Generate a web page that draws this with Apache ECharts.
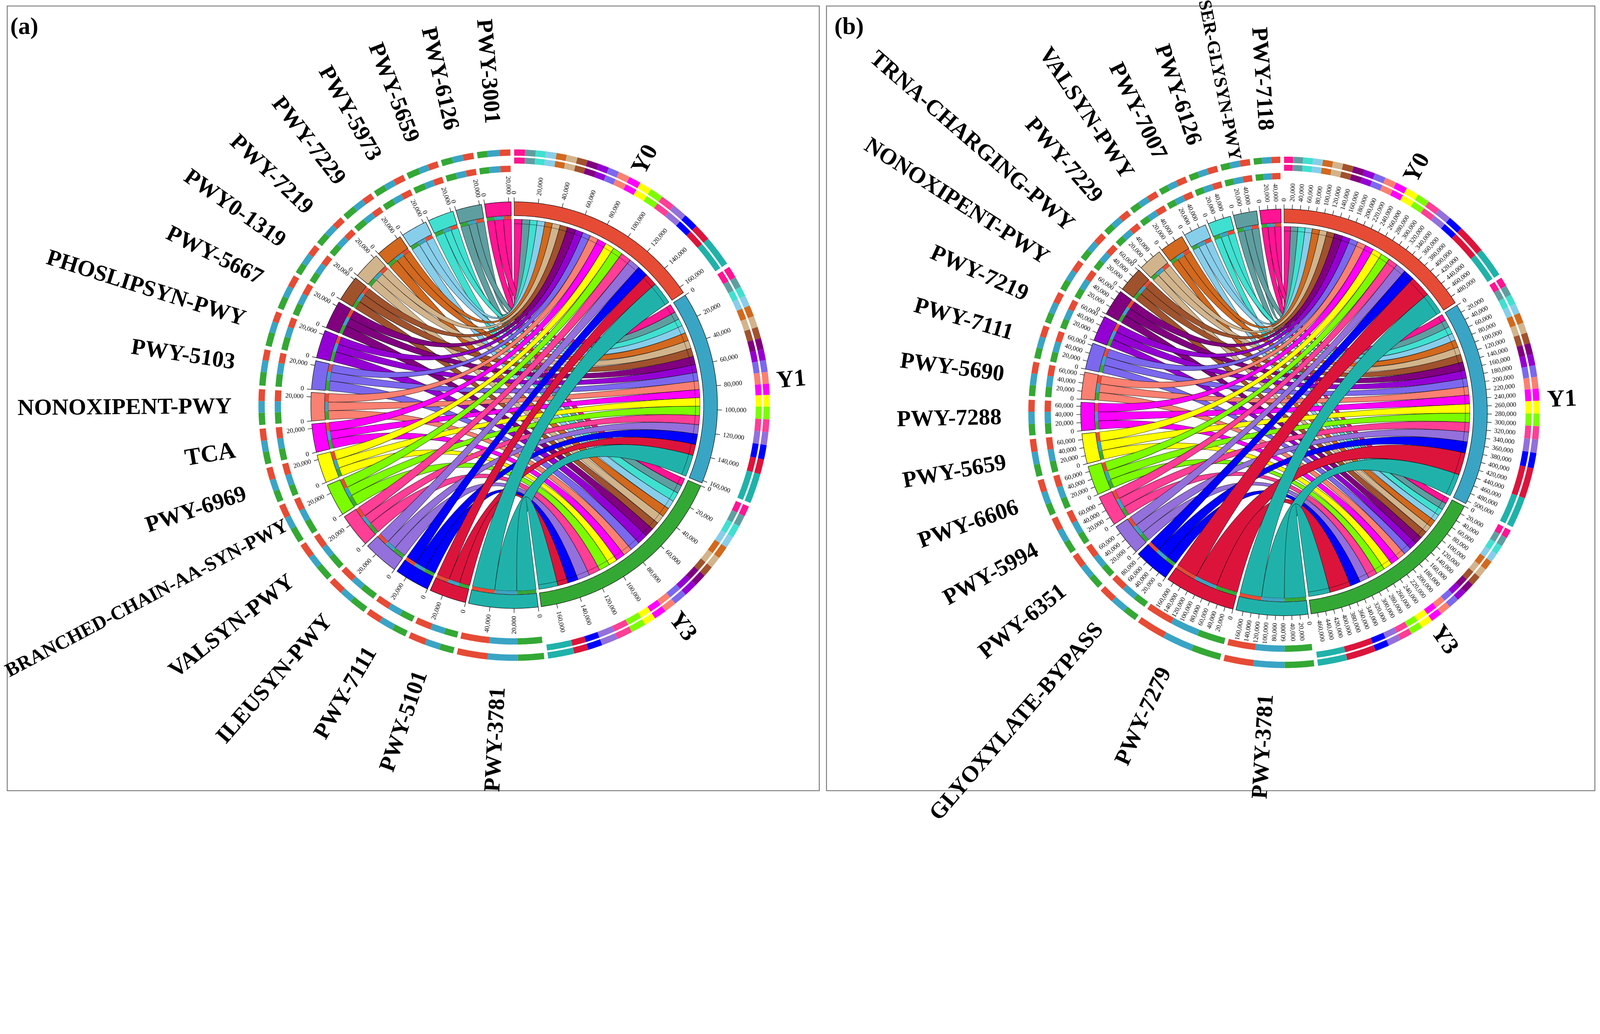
<!DOCTYPE html>
<html>
<head>
<meta charset="utf-8" />
<title>Pathway chord diagrams</title>
<script src="https://cdn.jsdelivr.net/npm/echarts@6.0.0/dist/echarts.min.js"></script>
<style>
html, body {margin:0; padding:0; background:#fff; overflow:hidden; width:100%; height:100%;}
#main {width:100vw; height:100vh;}
</style>
</head>
<body>
<div id="main"></div>
<script>
// ---- data : panel (a) ----
var groupsA = ['Y0', 'Y1', 'Y3'];
// pathways in clockwise order, starting right after Y3
var pathwaysA = ['PWY-3781', 'PWY-5101', 'PWY-7111', 'ILEUSYN-PWY', 'VALSYN-PWY', 'BRANCHED-CHAIN-AA-SYN-PWY',
  'PWY-6969', 'TCA', 'NONOXIPENT-PWY', 'PWY-5103', 'PHOSLIPSYN-PWY', 'PWY-5667', 'PWY0-1319',
  'PWY-7219', 'PWY-7229', 'PWY-5973', 'PWY-5659', 'PWY-6126', 'PWY-3001'];
var toY0A = [20500, 11500, 10000, 10000, 9600, 8800, 8200, 8000, 7800, 7200, 7000, 7800, 6900, 7200, 6800, 7100, 6700, 7100, 7200];
var toY1A = [20000, 10000, 9600, 8600, 8400, 8400, 7800, 7400, 7800, 7800, 7300, 7600, 7600, 7500, 7500, 7000, 6600, 7200, 8000];
var toY3A = [17500, 9500, 9600, 11000, 10400, 10000, 7700, 8300, 8100, 9000, 9300, 8400, 7200, 7800, 8500, 7900, 8400, 7500, 6900];

// ---- data : panel (b) ----
var groupsB = ['Y0', 'Y1', 'Y3'];
var pathwaysB = ['PWY-3781', 'PWY-7279', 'GLYOXYLATE-BYPASS', 'PWY-6351', 'PWY-5994', 'PWY-6606',
  'PWY-5659', 'PWY-7288', 'PWY-5690', 'PWY-7111', 'PWY-7219', 'NONOXIPENT-PWY', 'TRNA-CHARGING-PWY',
  'PWY-7229', 'VALSYN-PWY', 'PWY-7007', 'PWY-6126', 'SER-GLYSYN-PWY', 'PWY-7118'];
var toY0B = [59000, 57500, 30000, 26800, 25500, 24600, 25200, 23400, 22800, 22300, 21500, 22200, 21000, 20100, 20000, 19300, 19500, 19600, 17800];
var toY1B = [61000, 60500, 30400, 26500, 26000, 24800, 25000, 24000, 23000, 22600, 22000, 22400, 21200, 20400, 20500, 19400, 19700, 20000, 18000];
var toY3B = [58000, 58000, 27800, 25300, 24500, 23100, 24000, 22500, 21500, 21000, 20300, 20900, 19800, 18900, 18900, 18100, 18400, 18500, 16600];

// colours, in the same order as the sectors
var groupColors = ['#E64B35', '#3AA4C4', '#34A834'];
var pathColors = ['#20B2AA', '#DC143C', '#0000FF', '#9370DB', '#FF3E96', '#7CFC00', '#FFFF00', '#FF00FF',
  '#FA8072', '#7B68EE', '#9400D3', '#800080', '#A0522D', '#D2B48C', '#D2691E', '#87CEEB', '#40E0D0', '#5F9EA0', '#FF1493'];

var TICK_STEP = 20000;
var GAP_DEG = 0.85;

var dom = document.getElementById('main');
// layout is written in reference pixels (5312 x 2647) and scaled to the window
var S = Math.min(dom.clientWidth / 5312, dom.clientHeight / 2647);

// radii in reference px (radius axis runs 0..1000 over a 1000-ref-px polar radius)
var R = {
  link: 617, stripIn: 617, stripOut: 628, barIn: 629, barOut: 675, tickOut: 690, tickLab: 700,
  ringPIn: 774, ringPOut: 795, ringYIn: 802, ringYOut: 822, ringOIn: 828, ringOOut: 849,
  labRight: 875, labLeft: 938, yLine: 602
};
var SERIF = '"Liberation Serif", "Times New Roman", serif';
var TICK_FONT = (22 * S) + 'px ' + SERIF;
// long names were set smaller and closer in the original figure
var labelStyle = {
  'BRANCHED-CHAIN-AA-SYN-PWY': {size: 65, r: 853},
  'SER-GLYSYN-PWY': {size: 60, r: 853}
};
function nameFont(name) {
  var st = labelStyle[name];
  var px = st ? st.size : (name.length <= 3 ? 80 : 76);
  return 'bold ' + (px * S) + 'px ' + SERIF;
}

function sum(a) { return a.reduce(function (s, v) { return s + v; }, 0); }

function buildPanel(groups, paths, m0, m1, m3) {
  var mats = [m0, m1, m3];
  var gTot = mats.map(sum);
  var pTot = paths.map(function (p, i) { return m0[i] + m1[i] + m3[i]; });
  var nSec = groups.length + paths.length;
  var total = (sum(gTot) + sum(pTot)) / (1 - nSec * GAP_DEG / 360);
  var gap = total * GAP_DEG / 360;
  var sectors = [];
  var pos = 0;
  groups.forEach(function (g, k) {
    sectors.push({name: g, color: groupColors[k], value: gTot[k], start: pos, end: pos + gTot[k], isGroup: true, parts: []});
    pos += gTot[k] + gap;
  });
  paths.forEach(function (p, i) {
    sectors.push({name: p, color: pathColors[i], value: pTot[i], start: pos, end: pos + pTot[i], isGroup: false, parts: []});
    pos += pTot[i] + gap;
  });
  var links = paths.map(function () { return []; });
  // group sectors: links clockwise from the last pathway back to the first
  groups.forEach(function (g, k) {
    var s = sectors[k], a = s.start;
    for (var i = paths.length - 1; i >= 0; i--) {
      links[i][k] = {t0: a, t1: a + mats[k][i], color: pathColors[i]};
      s.parts.push({a0: a, a1: a + mats[k][i], color: pathColors[i]});
      a += mats[k][i];
    }
  });
  // pathway sectors: Y3, Y1, Y0 clockwise
  paths.forEach(function (p, i) {
    var s = sectors[groups.length + i], a = s.start;
    for (var k = groups.length - 1; k >= 0; k--) {
      links[i][k].s0 = a;
      links[i][k].s1 = a + mats[k][i];
      s.parts.push({a0: a, a1: a + mats[k][i], color: groupColors[k]});
      a += mats[k][i];
    }
  });
  var flat = [];
  for (var i = paths.length - 1; i >= 0; i--) {
    for (var k = 0; k < groups.length; k++) flat.push(links[i][k]);
  }
  return {sectors: sectors, links: flat, total: total};
}

function arcPts(api, P, r, a0, a1) {
  var n = Math.max(2, Math.ceil(Math.abs(a1 - a0) / P.total * 720));
  var pts = [];
  for (var j = 0; j <= n; j++) pts.push(api.coord([r, a0 + (a1 - a0) * j / n]));
  return pts;
}

function band(api, P, a0, a1, r0, r1, style) {
  var pts = arcPts(api, P, r1, a0, a1).concat(arcPts(api, P, r0, a1, a0));
  return {type: 'polygon', shape: {points: pts}, style: style};
}

function radialText(api, rRight, rLeft, a, text, font) {
  var c = api.coord([0, 0]);
  var p = api.coord([rRight, a]);
  var th = Math.atan2(c[1] - p[1], p[0] - c[0]);
  var right = Math.cos(th) > -1e-9;
  if (!right) p = api.coord([rLeft, a]);
  var al = right ? 'left' : 'right';
  return {
    type: 'text', x: p[0], y: p[1], rotation: right ? th : th + Math.PI,
    style: {text: text, font: font, fill: '#000', textAlign: al, align: al,
      textVerticalAlign: 'middle', verticalAlign: 'middle'}
  };
}

function fmt(v) { return v.toLocaleString('en-US'); }

function sectorItem(P) {
  return function (params, api) {
    var s = P.sectors[params.dataIndex];
    var ch = [];
    s.parts.forEach(function (q) {
      if (!s.isGroup) ch.push(band(api, P, q.a0, q.a1, R.stripIn, R.stripOut, {fill: q.color}));
      ch.push(band(api, P, q.a0, q.a1, s.isGroup ? R.ringYIn : R.ringPIn, s.isGroup ? R.ringYOut : R.ringPOut, {fill: q.color}));
      ch.push(band(api, P, q.a0, q.a1, R.ringOIn, R.ringOOut, {fill: q.color}));
    });
    ch.push(band(api, P, s.start, s.end, R.barIn, R.barOut, {fill: s.color, stroke: '#111', lineWidth: 1.6 * S}));
    if (s.isGroup) {
      ch.push({type: 'polyline', shape: {points: arcPts(api, P, R.yLine, s.start, s.end)},
        style: {fill: null, stroke: 'rgba(0,0,0,0.75)', lineWidth: 1.2 * S}});
    }
    for (var v = 0; v <= s.value; v += TICK_STEP) {
      var p0 = api.coord([R.barOut, s.start + v]);
      var p1 = api.coord([R.tickOut, s.start + v]);
      ch.push({type: 'line', shape: {x1: p0[0], y1: p0[1], x2: p1[0], y2: p1[1]}, style: {stroke: '#000', lineWidth: 1.6 * S}});
      ch.push(radialText(api, R.tickLab, R.tickLab, s.start + v, fmt(v), TICK_FONT));
    }
    var st = labelStyle[s.name];
    ch.push(radialText(api, R.labRight, st ? st.r : R.labLeft, (s.start + s.end) / 2, s.name, nameFont(s.name)));
    return {type: 'group', children: ch};
  };
}

function linkItem(P) {
  return function (params, api) {
    var L = P.links[params.dataIndex];
    var c = api.coord([0, 0]);
    var s = arcPts(api, P, R.link, L.s0, L.s1);
    var t = arcPts(api, P, R.link, L.t0, L.t1);
    var d = 'M' + s[0][0] + ' ' + s[0][1];
    for (var j = 1; j < s.length; j++) d += 'L' + s[j][0] + ' ' + s[j][1];
    d += 'Q' + c[0] + ' ' + c[1] + ' ' + t[0][0] + ' ' + t[0][1];
    for (j = 1; j < t.length; j++) d += 'L' + t[j][0] + ' ' + t[j][1];
    d += 'Q' + c[0] + ' ' + c[1] + ' ' + s[0][0] + ' ' + s[0][1] + 'Z';
    return {type: 'path', shape: {pathData: d}, style: {fill: L.color, stroke: 'rgba(0,0,0,0.8)', lineWidth: 1.3 * S}};
  };
}

var PA = buildPanel(groupsA, pathwaysA, toY0A, toY1A, toY3A);
var PB = buildPanel(groupsB, pathwaysB, toY0B, toY1B, toY3B);

var chart = echarts.init(dom);

function seriesFor(P, idx) {
  return [
    {type: 'custom', coordinateSystem: 'polar', polarIndex: idx, silent: true,
      data: P.links.map(function (L) { return [0, L.s0]; }), renderItem: linkItem(P)},
    {type: 'custom', coordinateSystem: 'polar', polarIndex: idx, silent: true,
      data: P.sectors.map(function (s) { return [0, s.start]; }), renderItem: sectorItem(P)}
  ];
}

var option = {
  animation: false,
  backgroundColor: '#fff',
  polar: [
    {center: [1707 * S, 1345 * S], radius: 1000 * S},
    {center: [4263 * S, 1369 * S], radius: 1000 * S}
  ],
  angleAxis: [
    {polarIndex: 0, type: 'value', min: 0, max: PA.total, startAngle: 90, clockwise: true, show: false},
    {polarIndex: 1, type: 'value', min: 0, max: PB.total, startAngle: 90, clockwise: true, show: false}
  ],
  radiusAxis: [
    {polarIndex: 0, type: 'value', min: 0, max: 1000, show: false},
    {polarIndex: 1, type: 'value', min: 0, max: 1000, show: false}
  ],
  graphic: [
    {type: 'rect', shape: {x: 24 * S, y: 20 * S, width: 2696 * S, height: 2605 * S}, style: {fill: 'none', stroke: '#777', lineWidth: 3 * S}},
    {type: 'rect', shape: {x: 2744 * S, y: 20 * S, width: 2551 * S, height: 2605 * S}, style: {fill: 'none', stroke: '#777', lineWidth: 3 * S}},
    {type: 'text', x: 34 * S, y: 52 * S, style: {text: '(a)', font: 'bold ' + (80 * S) + 'px ' + SERIF, fill: '#000'}},
    {type: 'text', x: 2770 * S, y: 52 * S, style: {text: '(b)', font: 'bold ' + (80 * S) + 'px ' + SERIF, fill: '#000'}}
  ],
  series: seriesFor(PA, 0).concat(seriesFor(PB, 1))
};
chart.setOption(option);
</script>
</body>
</html>
